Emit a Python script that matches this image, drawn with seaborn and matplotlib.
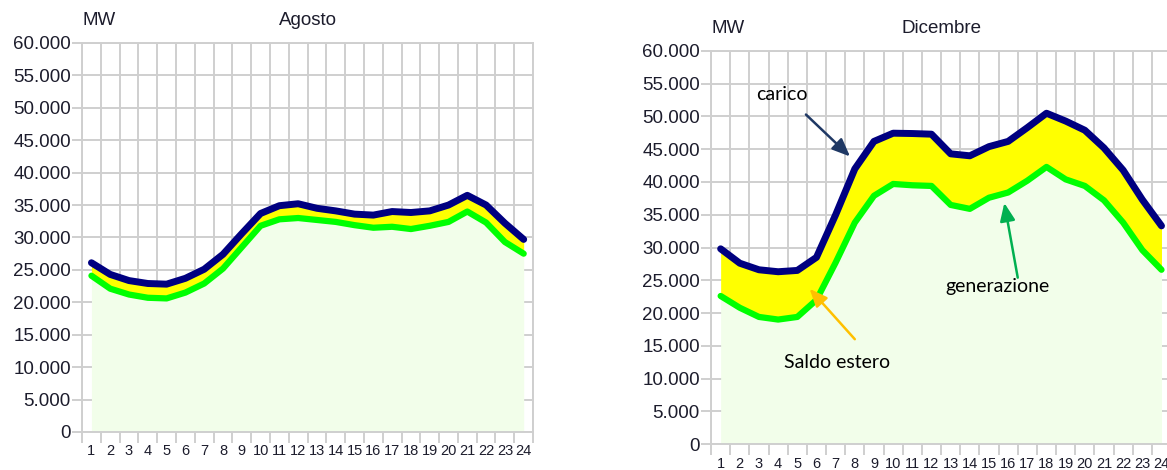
import numpy as np
import pandas as pd
import matplotlib
matplotlib.use('Agg')
import matplotlib.pyplot as plt
from matplotlib.ticker import FixedLocator, FuncFormatter
import seaborn as sns

# ore del giorno
ore = list(range(1, 25))

# Agosto (MW)
ago_carico = [26100, 24300, 23350, 22900, 22800, 23700, 25100, 27400, 30600, 33700, 34900, 35200,
              34500, 34100, 33600, 33450, 34000, 33850, 34100, 35000, 36500, 35000, 32200, 29700]
ago_generazione = [24100, 22100, 21200, 20700, 20600, 21500, 22900, 25200, 28500, 31800, 32800, 33000,
                   32700, 32400, 31900, 31500, 31650, 31300, 31800, 32400, 34000, 32300, 29300, 27500]

# Dicembre (MW)
dic_carico = [29800, 27600, 26600, 26300, 26500, 28500, 35000, 42000, 46200, 47450, 47400, 47300,
              44300, 44000, 45400, 46200, 48300, 50500, 49300, 47900, 45200, 41800, 37300, 33300]
dic_generazione = [22600, 20800, 19400, 19000, 19400, 22000, 27700, 33800, 37900, 39700, 39500, 39400,
                   36500, 35900, 37600, 38400, 40200, 42300, 40400, 39400, 37200, 33800, 29600, 26600]

y_ticks = list(range(0, 60001, 5000))

sns.set_theme(style='white')
plt.rcParams['font.family'] = ['Liberation Sans', 'DejaVu Sans']

GRID = '#cfcfcf'
TXT = '#1c1c2c'


def disegna(ax, titolo, carico, generazione):
    df = pd.DataFrame({'ora': ore, 'carico': carico, 'generazione': generazione})
    ax.set_axisbelow(True)
    ax.fill_between(df['ora'], 0, df['generazione'], color='#f2feea', lw=0, zorder=1)
    ax.fill_between(df['ora'], df['generazione'], df['carico'], color='#ffff00', lw=0, zorder=1)
    sns.lineplot(data=df, x='ora', y='generazione', ax=ax, color='#00ff00', lw=4.5,
                 solid_capstyle='round', zorder=3)
    sns.lineplot(data=df, x='ora', y='carico', ax=ax, color='#000080', lw=5,
                 solid_capstyle='round', zorder=4)
    ax.set_xlim(0.5, 24.5)
    ax.set_ylim(0, 60000)
    ax.set_xlabel('')
    ax.set_ylabel('')
    # griglia ai bordi delle ore, etichette al centro
    ax.xaxis.set_major_locator(FixedLocator(np.arange(0.5, 25, 1)))
    ax.xaxis.set_minor_locator(FixedLocator(ore))
    ax.xaxis.set_major_formatter(FuncFormatter(lambda v, p: ''))
    ax.xaxis.set_minor_formatter(FuncFormatter(lambda v, p: f'{int(v)}'))
    ax.set_yticks(y_ticks)
    ax.yaxis.set_major_formatter(FuncFormatter(lambda v, p: f'{int(v):,}'.replace(',', '.')))
    ax.tick_params(axis='x', which='major', length=8, width=1.4, color=GRID, bottom=True)
    ax.tick_params(axis='x', which='minor', length=0, labelsize=10.5, labelcolor=TXT, pad=9,
                   bottom=True)
    ax.tick_params(axis='y', length=7, width=1.4, color=GRID, labelsize=13.5, labelcolor=TXT,
                   pad=1, left=True)
    ax.grid(True, which='major', color=GRID, lw=1.4)
    for s in ax.spines.values():
        s.set_color(GRID)
        s.set_linewidth(1.4)
    ax.annotate('MW', xy=(0, 1), xycoords='axes fraction', xytext=(0, 16),
                textcoords='offset points', ha='left', va='center', fontsize=13.5, color=TXT)
    ax.annotate(titolo, xy=(0.5, 1), xycoords='axes fraction', xytext=(0, 16),
                textcoords='offset points', ha='center', va='center', fontsize=13.5, color=TXT)


fig = plt.figure(figsize=(11.67, 4.70), dpi=100)
ax1 = fig.add_axes([0.0703, 0.0809, 0.3865, 0.8277])
ax2 = fig.add_axes([0.6093, 0.0553, 0.3942, 0.8362])

disegna(ax1, 'Agosto', ago_carico, ago_generazione)
disegna(ax2, 'Dicembre', dic_carico, dic_generazione)

# etichette con frecce (Dicembre)
note = dict(fontsize=14, color='black', family=['Lato', 'DejaVu Sans'], ha='center', va='center',
            zorder=6)
ax2.text(4.2, 53400, 'carico', **note)
ax2.text(15.45, 24100, 'generazione', **note)
ax2.text(7.05, 12500, 'Saldo estero', **note)

frecce = [((5.45, 50300), (7.75, 43900), '#1f3864'),
          ((16.5, 25400), (15.8, 36800), '#00b050'),
          ((8.0, 16000), (5.64, 23700), '#ffc000')]
for inizio, punta, col in frecce:
    ax2.annotate('', xy=punta, xytext=inizio, zorder=6,
                 arrowprops=dict(arrowstyle='-|>,head_length=0.9,head_width=0.38', color=col,
                                 lw=1.8, shrinkA=0, shrinkB=0))

fig.savefig('out.png', dpi=100)
